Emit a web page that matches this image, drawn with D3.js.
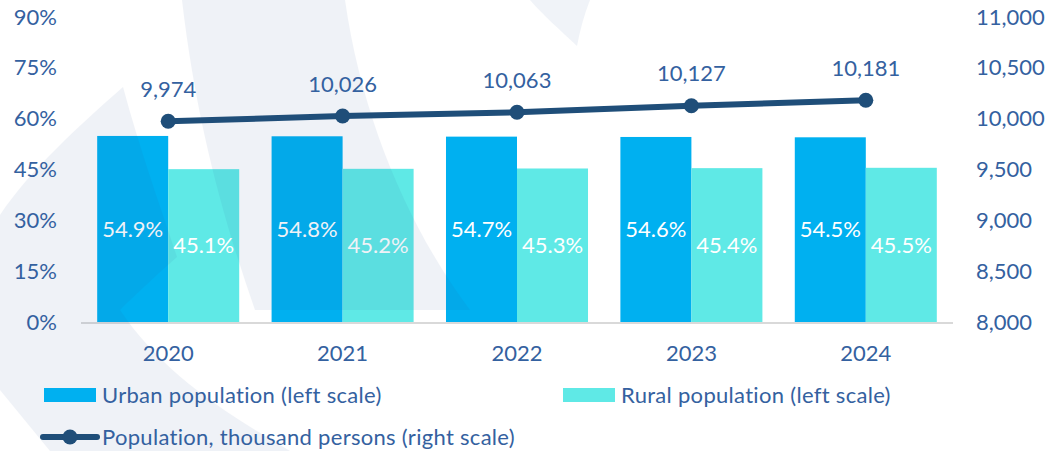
<!DOCTYPE html>
<html lang="en">
  <head>
    <script src="https://d3js.org/d3.v7.min.js"></script>
    <style>
      body {
        margin: 0;
        background: #fff;
      }
      text {
        font-family: "Lato", sans-serif;
        font-size: 22px;
        fill: #3461a0;
      }
      .bar-label {
        fill: #fff;
      }
      .legend-text {
        letter-spacing: 0.3px;
      }
    </style>
  </head>
  <body>
    <svg id="chart" width="1046" height="451"></svg>
    <script>
      const years = ["2020", "2021", "2022", "2023", "2024"];
      const urbanShare = [54.9, 54.8, 54.7, 54.6, 54.5];
      const ruralShare = [45.1, 45.2, 45.3, 45.4, 45.5];
      const population = [9974, 10026, 10063, 10127, 10181];
      const leftTicks = [0, 15, 30, 45, 60, 75, 90];
      const rightTicks = [8000, 8500, 9000, 9500, 10000, 10500, 11000];

      const urbanColor = "#00b0f0";
      const ruralColor = "#5fe9e6";
      const lineColor = "#1f4e79";

      const svg = d3.select("svg#chart");
      const margin = { top: 17, right: 93, bottom: 129, left: 81 };
      const width = +svg.attr("width");
      const height = +svg.attr("height");

      const xScale = d3
        .scaleBand()
        .domain(years)
        .range([margin.left, width - margin.right]);

      const xInner = d3
        .scaleBand()
        .domain(["urban", "rural"])
        .range([0, xScale.bandwidth()])
        .paddingOuter(0.228);

      const yLeft = d3
        .scaleLinear()
        .domain([0, 90])
        .range([height - margin.bottom, margin.top]);

      const yRight = d3
        .scaleLinear()
        .domain([8000, 11000])
        .range([height - margin.bottom, margin.top]);

      // bars
      const groups = svg
        .append("g")
        .selectAll("g")
        .data(years)
        .join("g")
        .attr("transform", (d) => `translate(${xScale(d)},0)`);

      groups
        .append("rect")
        .attr("x", xInner("urban"))
        .attr("y", (d, i) => yLeft(urbanShare[i]))
        .attr("width", xInner.bandwidth())
        .attr("height", (d, i) => yLeft(0) - yLeft(urbanShare[i]))
        .attr("fill", urbanColor);

      groups
        .append("rect")
        .attr("x", xInner("rural"))
        .attr("y", (d, i) => yLeft(ruralShare[i]))
        .attr("width", xInner.bandwidth())
        .attr("height", (d, i) => yLeft(0) - yLeft(ruralShare[i]))
        .attr("fill", ruralColor);

      // baseline
      svg
        .append("line")
        .attr("x1", margin.left)
        .attr("x2", width - margin.right)
        .attr("y1", yLeft(0) + 1)
        .attr("y2", yLeft(0) + 1)
        .attr("stroke", "#d9d9d9")
        .attr("stroke-width", 2);

      // faint background logo, laid over the bars
      const logo = svg
        .append("g")
        .attr("fill", "#2f5597")
        .attr("opacity", 0.07);
      logo
        .append("path")
        .attr(
          "d",
          "M123,87 C80,125 30,170 0,215 L0,390 L50,451 L290,451 C220,410 160,370 120,310 C140,290 160,272 177,257 C158,200 140,150 123,87 Z"
        );
      logo
        .append("path")
        .attr(
          "d",
          "M182,0 L345,0 C362,120 410,230 470,310 L255,310 C222,215 196,120 182,0 Z"
        );
      logo.append("path").attr("d", "M530,0 L590,0 C584,15 580,30 577,46 C560,30 543,15 530,0 Z");

      // left axis
      const leftAxis = svg
        .append("g")
        .attr("transform", `translate(57,0)`)
        .call(
          d3
            .axisLeft(yLeft)
            .tickValues(leftTicks)
            .tickSize(0)
            .tickPadding(0)
            .tickFormat((d) => d + "%")
        );
      leftAxis.select(".domain").remove();
      leftAxis.selectAll("text").attr("font-size", null).attr("font-family", null).attr("fill", null);

      // right axis
      const rightAxis = svg
        .append("g")
        .attr("transform", `translate(976,0)`)
        .call(
          d3
            .axisRight(yRight)
            .tickValues(rightTicks)
            .tickSize(0)
            .tickPadding(0)
            .tickFormat(d3.format(","))
        );
      rightAxis.select(".domain").remove();
      rightAxis.selectAll("text").attr("font-size", null).attr("font-family", null).attr("fill", null);

      // category axis
      const xAxis = svg
        .append("g")
        .attr("transform", `translate(0,${yLeft(0)})`)
        .call(d3.axisBottom(xScale).tickSize(0).tickPadding(0));
      xAxis.select(".domain").remove();
      xAxis
        .selectAll("text")
        .attr("font-size", null)
        .attr("font-family", null)
        .attr("fill", null)
        .attr("y", 31)
        .attr("dy", "0.35em");

      // bar labels
      groups
        .append("text")
        .attr("class", "bar-label")
        .attr("x", xInner("urban") + xInner.bandwidth() / 2)
        .attr("y", (d, i) => (yLeft(urbanShare[i]) + yLeft(0)) / 2)
        .attr("dy", "0.35em")
        .attr("text-anchor", "middle")
        .text((d, i) => urbanShare[i].toFixed(1) + "%");

      groups
        .append("text")
        .attr("class", "bar-label")
        .attr("x", xInner("rural") + xInner.bandwidth() / 2)
        .attr("y", (d, i) => (yLeft(ruralShare[i]) + yLeft(0)) / 2)
        .attr("dy", "0.35em")
        .attr("text-anchor", "middle")
        .text((d, i) => ruralShare[i].toFixed(1) + "%");

      // population line
      const cx = (d) => xScale(d) + xScale.bandwidth() / 2;
      const line = d3
        .line()
        .x((d) => cx(d))
        .y((d, i) => yRight(population[i]));

      svg
        .append("path")
        .datum(years)
        .attr("d", line)
        .attr("fill", "none")
        .attr("stroke", lineColor)
        .attr("stroke-width", 6);

      svg
        .append("g")
        .selectAll("circle")
        .data(years)
        .join("circle")
        .attr("cx", cx)
        .attr("cy", (d, i) => yRight(population[i]))
        .attr("r", 7.5)
        .attr("fill", lineColor);

      svg
        .append("g")
        .selectAll("text")
        .data(years)
        .join("text")
        .attr("x", cx)
        .attr("y", (d, i) => yRight(population[i]) - 32)
        .attr("dy", "0.35em")
        .attr("text-anchor", "middle")
        .text((d, i) => d3.format(",")(population[i]));

      // legend
      const legend = svg.append("g");
      legend
        .append("rect")
        .attr("x", 44)
        .attr("y", 388)
        .attr("width", 52)
        .attr("height", 14)
        .attr("fill", urbanColor);
      legend
        .append("text")
        .attr("class", "legend-text")
        .attr("x", 102)
        .attr("y", 395)
        .attr("dy", "0.35em")
        .text("Urban population (left scale)");

      legend
        .append("rect")
        .attr("x", 563)
        .attr("y", 388)
        .attr("width", 52)
        .attr("height", 14)
        .attr("fill", ruralColor);
      legend
        .append("text")
        .attr("class", "legend-text")
        .attr("x", 621)
        .attr("y", 395)
        .attr("dy", "0.35em")
        .text("Rural population (left scale)");

      legend
        .append("line")
        .attr("x1", 43)
        .attr("x2", 97)
        .attr("y1", 437)
        .attr("y2", 437)
        .attr("stroke", lineColor)
        .attr("stroke-width", 6)
        .attr("stroke-linecap", "round");
      legend
        .append("circle")
        .attr("cx", 70)
        .attr("cy", 437)
        .attr("r", 7.5)
        .attr("fill", lineColor);
      legend
        .append("text")
        .attr("class", "legend-text")
        .attr("x", 102)
        .attr("y", 437)
        .attr("dy", "0.35em")
        .text("Population, thousand persons (right scale)");
    </script>
  </body>
</html>
